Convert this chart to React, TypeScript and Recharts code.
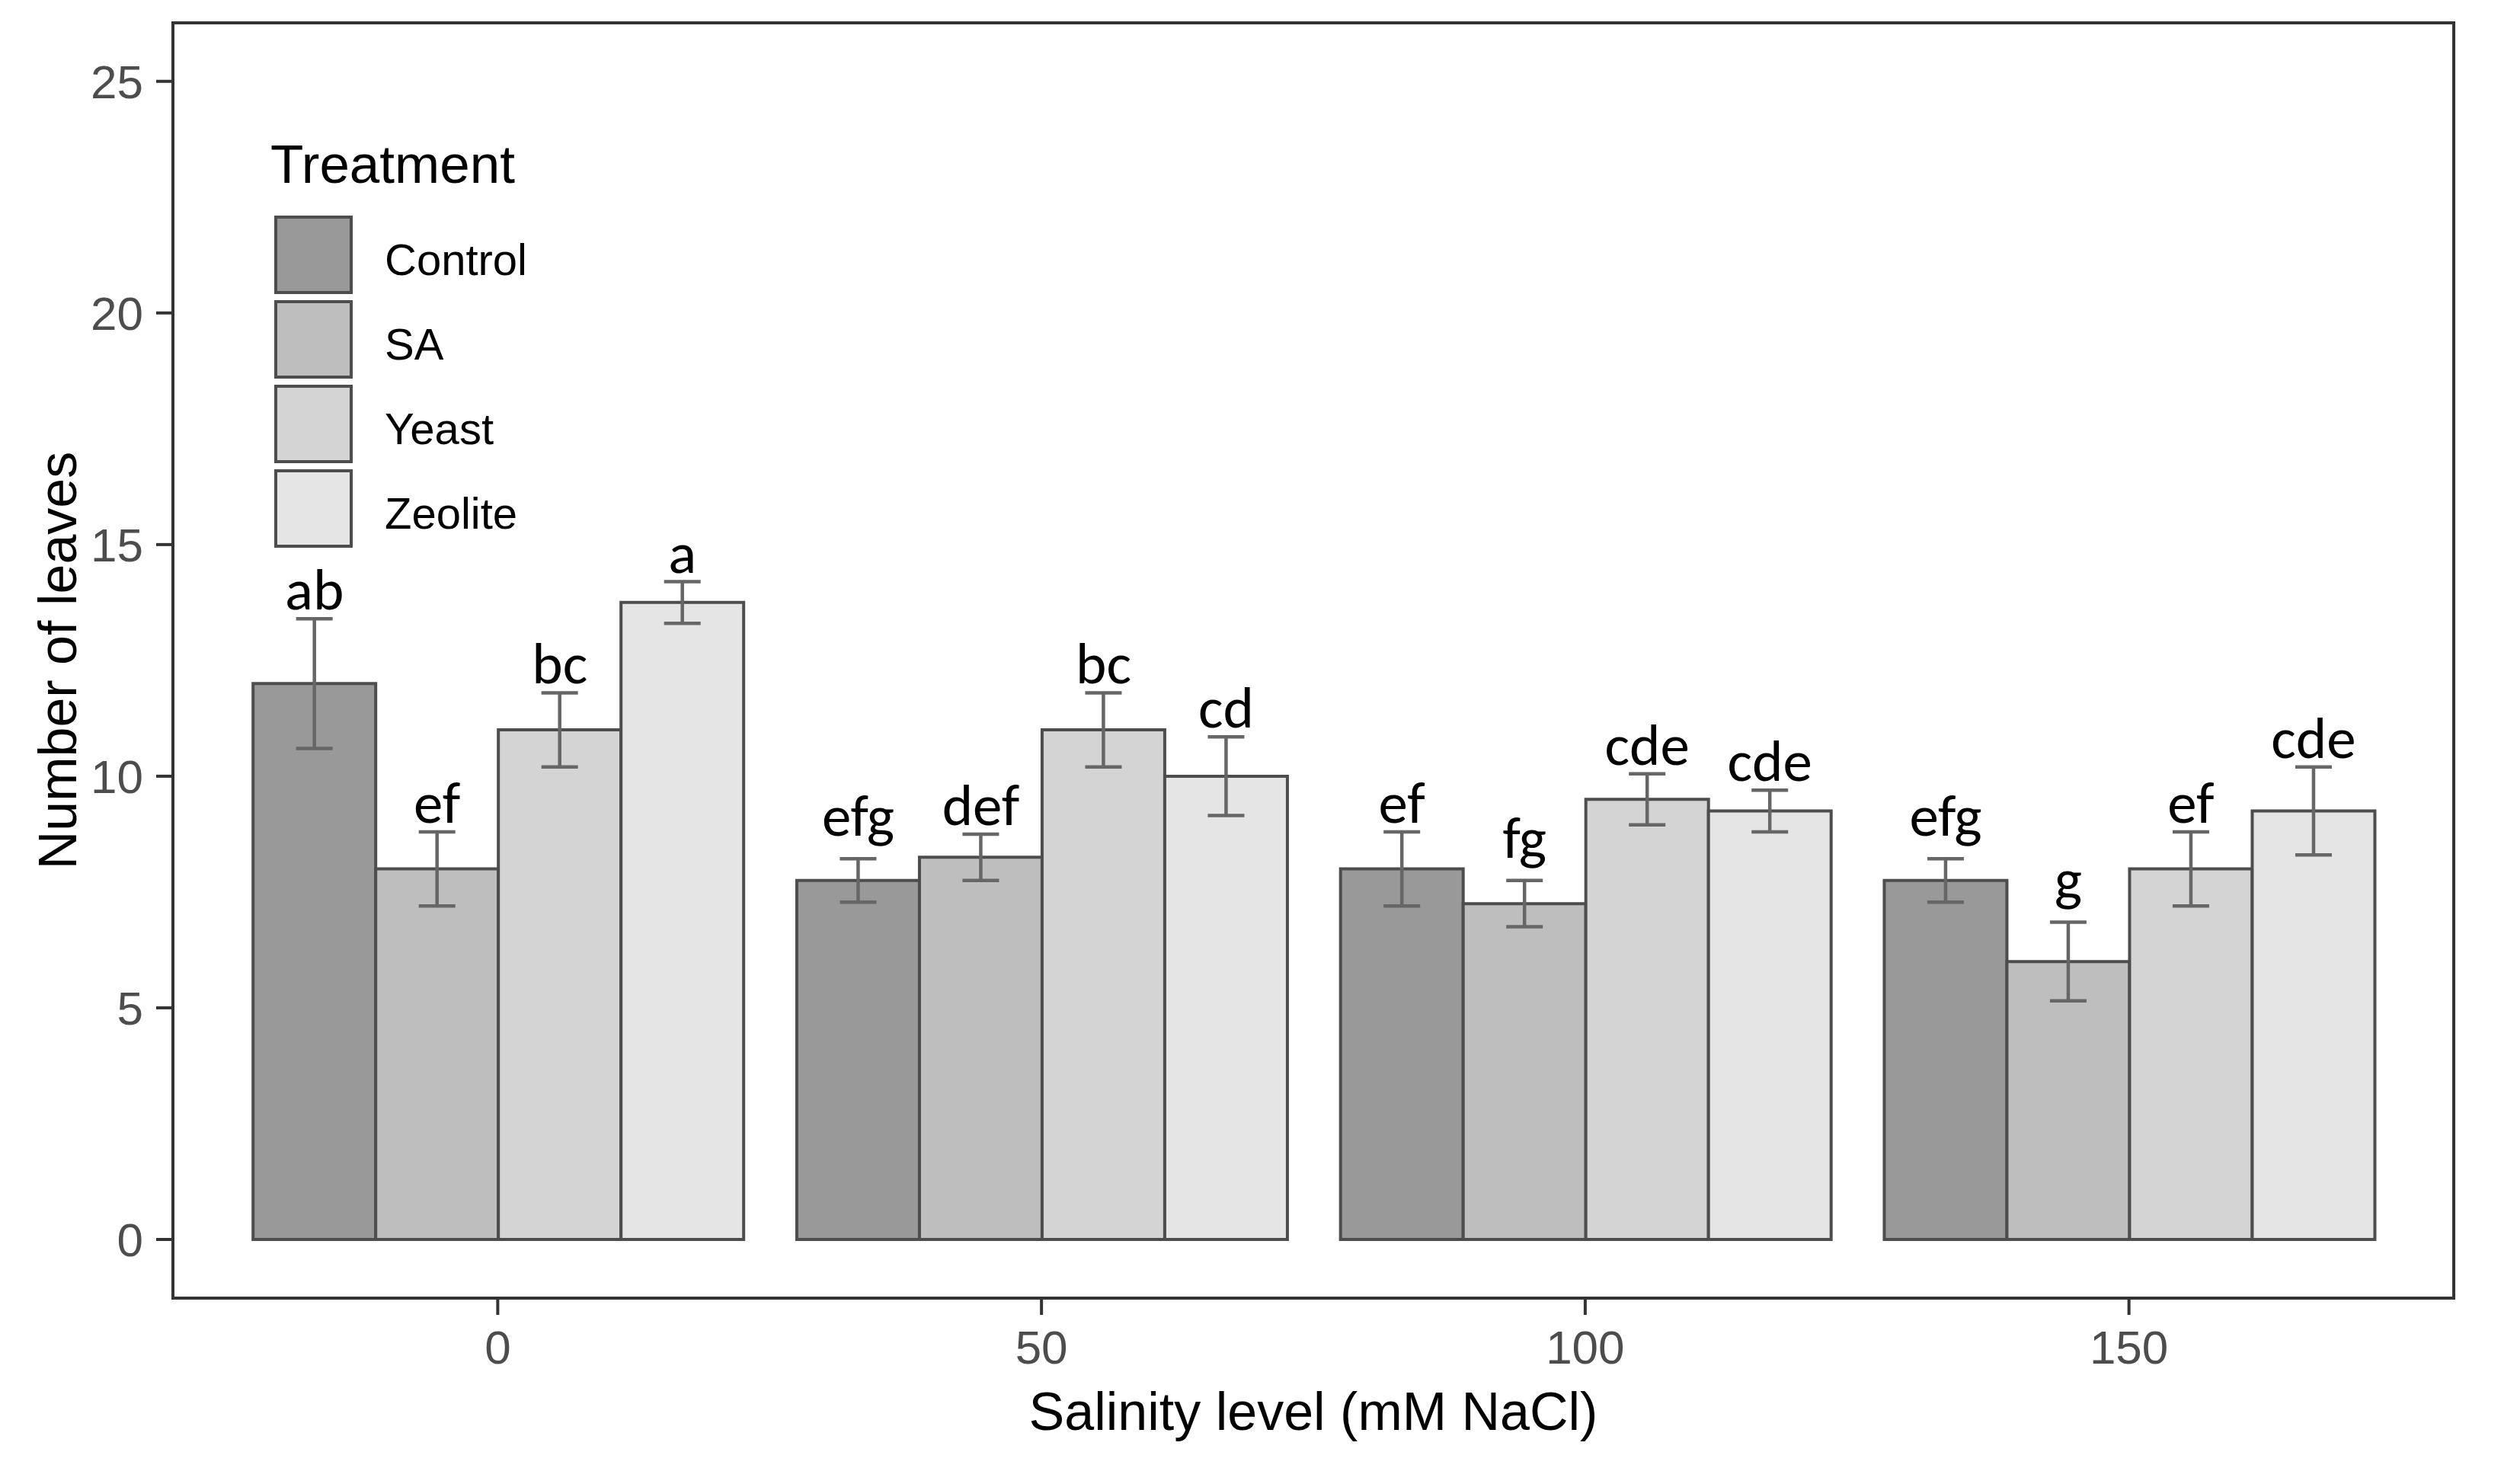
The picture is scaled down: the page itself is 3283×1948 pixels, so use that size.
import React from "react";
import { BarChart, Bar, XAxis, YAxis, ErrorBar, LabelList, Legend } from "recharts";

const salinity = ["0", "50", "100", "150"];
const treatments = ["Control", "SA", "Yeast", "Zeolite"];
const keys = ["control", "sa", "yeast", "zeolite"];
const fills = ["#999999", "#BEBEBE", "#D4D4D4", "#E5E5E5"];

// mean number of leaves per salinity level
const control = [12, 7.75, 8, 7.75];
const sa = [8, 8.25, 7.25, 6];
const yeast = [11, 11, 9.5, 8];
const zeolite = [13.75, 10, 9.25, 9.25];

// standard errors
const controlSe = [1.4, 0.47, 0.8, 0.47];
const saSe = [0.8, 0.5, 0.5, 0.85];
const yeastSe = [0.8, 0.8, 0.55, 0.8];
const zeoliteSe = [0.45, 0.85, 0.45, 0.95];

// significance letters
const controlLetters = ["ab", "efg", "ef", "efg"];
const saLetters = ["ef", "def", "fg", "g"];
const yeastLetters = ["bc", "bc", "cde", "ef"];
const zeoliteLetters = ["a", "cd", "cde", "cde"];

const yTicks = [0, 5, 10, 15, 20, 25];

const means = [control, sa, yeast, zeolite];
const ses = [controlSe, saSe, yeastSe, zeoliteSe];
const letters = [controlLetters, saLetters, yeastLetters, zeoliteLetters];

const data = salinity.map((s, i) => {
  const row: Record<string, any> = { salinity: s };
  keys.forEach((k, j) => {
    row[k] = means[j][i];
    row[k + "Se"] = ses[j][i];
  });
  return row;
});

const axisFont = "'Liberation Sans', Arial, sans-serif";
const letterFont = "Calibri, Carlito, 'Open Sans', sans-serif";

const W = 3283;
const H = 1948;
const M = { top: 30, right: 62, bottom: 0, left: 0 };
const Y_W = 227;
const X_H = 244;

const letterLabel = (j: number) => (props: any) => {
  const { x, y, width, height, value, index } = props;
  const perUnit = height / value;
  const top = y - ses[j][index] * perUnit;
  const txt = letters[j][index];
  // letters with a descender sit a bit higher above the error bar
  const lift = /[gpqy]/.test(txt) ? 18 : 0;
  return (
    <text
      x={x + width / 2}
      y={top - 12 - lift}
      textAnchor="middle"
      fontSize={77}
      fontFamily={letterFont}
      fill="#000"
    >
      {txt}
    </text>
  );
};

const LegendBox = () => (
  <svg width={460} height={580}>
    <text x={15} y={70} fontSize={71} fontFamily={axisFont} fill="#000">
      Treatment
    </text>
    {treatments.map((t, j) => (
      <g key={t}>
        <rect
          x={22}
          y={115 + j * 111}
          width={99}
          height={99}
          fill={fills[j]}
          stroke="#4D4D4D"
          strokeWidth={4}
        />
        <text x={165} y={115 + j * 111 + 76} fontSize={58} fontFamily={axisFont} fill="#000">
          {t}
        </text>
      </g>
    ))}
  </svg>
);

export default function App() {
  const plotW = W - M.left - M.right - Y_W;
  const plotH = H - M.top - M.bottom - X_H;
  return (
    <div style={{ position: "absolute", left: 0, top: 0, width: W, height: H, background: "#fff" }}>
      <BarChart
        width={W}
        height={H}
        data={data}
        margin={M}
        barCategoryGap="5%"
        barGap={0}
      >
        <XAxis
          dataKey="salinity"
          height={X_H}
          padding={{ left: 69.5, right: 69.5 }}
          axisLine={false}
          tickSize={22}
          tickMargin={20}
          tickLine={{ stroke: "#333333", strokeWidth: 4 }}
          tick={{ fontSize: 62, fontFamily: axisFont, fill: "#4D4D4D" }}
          label={{
            value: "Salinity level (mM NaCl)",
            position: "insideBottom",
            offset: 71,
            style: { fontSize: 70, fontFamily: axisFont, fill: "#000" },
          }}
        />
        <YAxis
          width={Y_W}
          domain={[-1.266, 26.262]}
          ticks={yTicks}
          allowDataOverflow
          axisLine={false}
          tickSize={22}
          tickMargin={17}
          tickLine={{ stroke: "#333333", strokeWidth: 4 }}
          tick={{ fontSize: 62, fontFamily: axisFont, fill: "#4D4D4D" }}
          label={{
            value: "Number of leaves",
            angle: -90,
            position: "center",
            dx: -38,
            style: { fontSize: 70, fontFamily: axisFont, fill: "#000", textAnchor: "middle" },
          }}
        />
        <Legend
          layout="horizontal"
          verticalAlign="middle"
          align="center"
          wrapperStyle={{ left: 340, top: 170, width: 460, height: 580 }}
          content={() => <LegendBox />}
        />
        {keys.map((k, j) => (
          <Bar
            key={k}
            dataKey={k}
            name={treatments[j]}
            fill={fills[j]}
            stroke="#4D4D4D"
            strokeWidth={4}
            isAnimationActive={false}
          >
            <ErrorBar dataKey={k + "Se"} width={24} stroke="#666666" strokeWidth={4.5} />
            <LabelList dataKey={k} content={letterLabel(j)} />
          </Bar>
        ))}
      </BarChart>
      <div
        style={{
          position: "absolute",
          left: M.left + Y_W - 2,
          top: M.top - 2,
          width: plotW + 4,
          height: plotH + 4,
          border: "4.5px solid #333333",
          boxSizing: "border-box",
          pointerEvents: "none",
        }}
      />
    </div>
  );
}
